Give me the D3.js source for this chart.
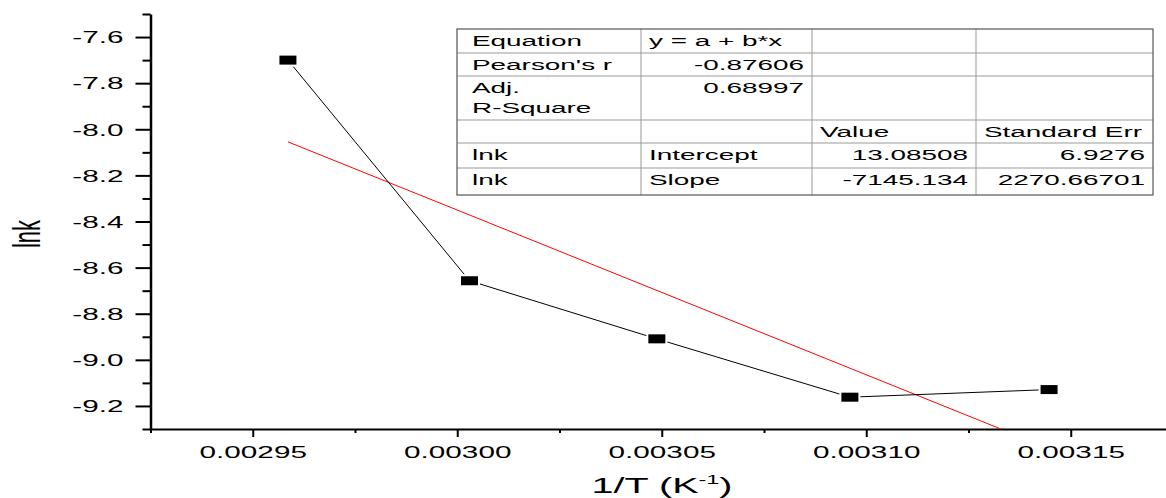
<!DOCTYPE html>
<html>
<head>
<meta charset="utf-8">
<script src="https://cdn.jsdelivr.net/npm/d3@7"></script>
<style>
  body { margin: 0; background: #fff; }
  svg { display: block; font-family: "Liberation Sans", Arial, sans-serif; }
</style>
</head>
<body>
<svg id="svg" width="1166" height="498"></svg>
<script>
// data
var invT = [0.0029586, 0.0030030, 0.0030488, 0.0030960, 0.0031447];
var lnk = [-7.700, -8.657, -8.909, -9.162, -9.129];
var intercept = 13.08508;
var slope = -7145.134;

var xTicks = [0.00295, 0.00300, 0.00305, 0.00310, 0.00315];
var xMinor = [0.002925, 0.002975, 0.003025, 0.003075, 0.003125, 0.003175];
var yTicks = [-9.2, -9.0, -8.8, -8.6, -8.4, -8.2, -8.0, -7.8, -7.6];
var yMinor = [-9.3, -9.1, -8.9, -8.7, -8.5, -8.3, -8.1, -7.9, -7.7, -7.5];

var tableCol1 = ["Equation", "Pearson's r", ["Adj.", "R-Square"], "", "lnk", "lnk"];
var tableCol2 = ["y = a + b*x", "-0.87606", "0.68997", "", "Intercept", "Slope"];
var tableCol3 = ["", "", "", "Value", "13.08508", "-7145.134"];
var tableCol4 = ["", "", "", "Standard Err", "6.9276", "2270.66701"];

// the picture is stretched sideways, text too
var SX = 1.8;

var svg = d3.select("#svg");

var x = d3.scaleLinear().domain([0.002925, 0.003175]).range([150.5, 1173]);
var y = d3.scaleLinear().domain([-9.3, -7.5]).range([429, 14]);

var stext = function(g, px, py, str, size, anchor) {
  return g.append("text")
    .attr("transform", "translate(" + px + "," + py + ") scale(" + SX + ",1)")
    .attr("font-size", size)
    .attr("text-anchor", anchor)
    .attr("fill", "#000")
    .text(str);
};

// clip for the fit line
svg.append("clipPath").attr("id", "plot")
  .append("rect").attr("x", 150.5).attr("y", 14).attr("width", 1022).attr("height", 415);

// y axis
var yg = svg.append("g").attr("transform", "translate(150.5,0)");
yg.call(d3.axisLeft(y).tickValues(yTicks).tickSize(15).tickSizeOuter(0)
  .tickFormat(function(d) { return d.toFixed(1); }));
yg.select(".domain").attr("stroke-width", 2.5);
yg.selectAll(".tick line").attr("stroke-width", 2);
yg.selectAll(".tick text")
  .attr("x", 0).attr("dy", "0.35em")
  .attr("font-size", 16.5).attr("font-family", null)
  .attr("transform", "translate(-27,0) scale(" + SX + ",1)");
var ym = svg.append("g").attr("transform", "translate(150.5,0)");
ym.call(d3.axisLeft(y).tickValues(yMinor).tickSize(8).tickFormat(""));
ym.select(".domain").remove();
ym.selectAll(".tick line").attr("stroke-width", 2);

// x axis
var xg = svg.append("g").attr("transform", "translate(0,429)");
xg.call(d3.axisBottom(x).tickValues(xTicks).tickSize(8).tickSizeOuter(0)
  .tickFormat(function(d) { return d.toFixed(5); }));
xg.select(".domain").attr("stroke-width", 2);
xg.selectAll(".tick line").attr("stroke-width", 2);
xg.selectAll(".tick text")
  .attr("y", 29).attr("dy", 0)
  .attr("font-size", 16.5).attr("font-family", null)
  .attr("transform", "scale(" + SX + ",1)");
var xm = svg.append("g").attr("transform", "translate(0,429)");
xm.call(d3.axisBottom(x).tickValues(xMinor).tickSize(4).tickFormat(""));
xm.select(".domain").remove();
xm.selectAll(".tick line").attr("stroke-width", 2);

// axis titles
svg.append("text")
  .attr("transform", "translate(40,234) scale(" + SX + ",1) rotate(-90)")
  .attr("font-size", 22).attr("text-anchor", "middle")
  .text("lnk");
var xt = stext(svg, 662, 493, "", 22, "middle");
xt.append("tspan").text("1/T (K");
xt.append("tspan").attr("font-size", 13).attr("dy", -9).text("-1");
xt.append("tspan").attr("dy", 9).text(")");

// fit line
var fitX = [invT[0], invT[invT.length - 1]];
svg.append("path")
  .attr("clip-path", "url(#plot)")
  .attr("d", d3.line()
    .x(function(d) { return x(d); })
    .y(function(d) { return y(intercept + slope * d); })(fitX))
  .attr("fill", "none").attr("stroke", "#ff0000").attr("stroke-width", 1);

// data line and markers
var pts = invT.map(function(d, i) { return [d, lnk[i]]; });
svg.append("path")
  .attr("d", d3.line().x(function(d) { return x(d[0]); }).y(function(d) { return y(d[1]); })(pts))
  .attr("fill", "none").attr("stroke", "#000").attr("stroke-width", 1);
svg.selectAll("rect.pt").data(pts).enter().append("rect")
  .attr("class", "pt")
  .attr("x", function(d) { return x(d[0]) - 8.5; })
  .attr("y", function(d) { return y(d[1]) - 4.5; })
  .attr("width", 17).attr("height", 9)
  .attr("fill", "#000").attr("stroke", "#fff").attr("stroke-width", 4)
  .style("paint-order", "stroke");

// fit table
var colX = [457, 641, 812, 976, 1153];
var rowY = [29, 53, 76, 120, 143, 168, 195];
var tg = svg.append("g");
colX.slice(1, -1).forEach(function(cx) {
  tg.append("line").attr("x1", cx).attr("x2", cx).attr("y1", rowY[0]).attr("y2", rowY[6])
    .attr("stroke", "#999").attr("stroke-width", 1);
});
rowY.slice(1, -1).forEach(function(ry) {
  tg.append("line").attr("x1", colX[0]).attr("x2", colX[4]).attr("y1", ry).attr("y2", ry)
    .attr("stroke", "#999").attr("stroke-width", 1);
});
tg.append("rect").attr("x", colX[0]).attr("y", rowY[0])
  .attr("width", colX[4] - colX[0]).attr("height", rowY[6] - rowY[0])
  .attr("fill", "none").attr("stroke", "#555").attr("stroke-width", 1.2);

var isNum = function(s) { return /^-?[0-9.]+$/.test(s); };
[tableCol1, tableCol2, tableCol3, tableCol4].forEach(function(col, c) {
  col.forEach(function(cell, r) {
    var lines = Array.isArray(cell) ? cell : [cell];
    lines.forEach(function(s, k) {
      if (!s) return;
      var by = rowY[r] + 17 + k * 20;
      if (isNum(s)) stext(tg, colX[c + 1] - 8, by, s, 15.5, "end");
      else stext(tg, colX[c] + (c === 0 ? 15 : 8), by, s, 15.5, "start");
    });
  });
});
</script>
</body>
</html>
